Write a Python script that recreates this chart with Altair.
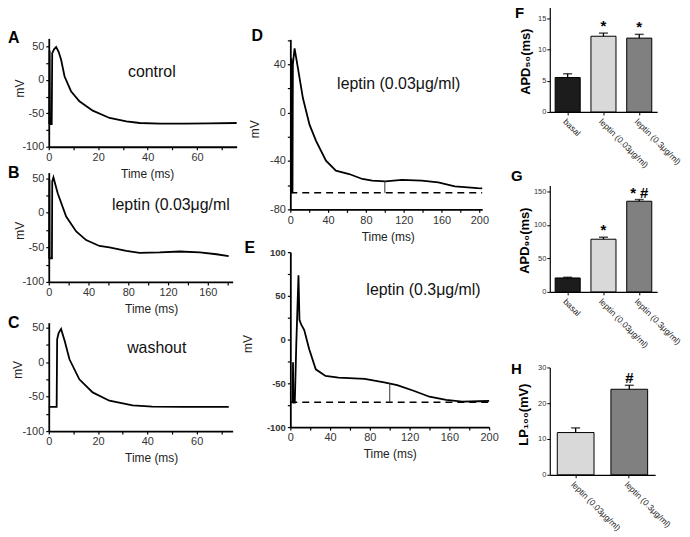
import altair as alt
import pandas as pd

FONT = "Liberation Sans"

# ---------------- trace data (time ms, membrane potential mV) ----------------
tA = [0.2, 0.35, 0.5, 1.2, 1.4, 2.2, 3.0, 4.0, 5.0, 6.4, 9.0, 12.4, 17.8, 24.6, 31.4, 36.8, 45, 55, 65, 76]
vA = [-66, 44, -66, -66, 40, 46, 49, 42, 30, 5, -17, -32, -46, -57, -62, -64.5, -65.5, -65.5, -65, -64.5]

tB = [0.4, 0.7, 0.9, 3.2, 3.5, 4.7, 9, 17.5, 27.6, 37.6, 51, 61, 78, 91.4, 111.6, 131.8, 152, 168.7, 181]
vB = [-66, 48, -66, -66, 45, 51, 28, -5.6, -27, -39.5, -48, -50, -55, -58, -57.4, -56, -57.4, -60, -62.7]

tC = [0, 3.2, 3.4, 4.0, 5.0, 6.5, 8.4, 12.4, 17.8, 24.6, 34, 42, 55, 73]
vC = [-65, -65, 33, 42, 48, 30, 4, -25, -44, -56, -62.7, -64.7, -65, -65]

tD = [0.8, 1.1, 1.4, 2.3, 2.7, 4.5, 8, 13.3, 20.3, 27.2, 37.7, 48.2, 62.2, 76.2, 86.6, 100.6, 118, 139, 156.5,
      174, 198, 203]
vD = [-66, 45, -66, -66, 40, 53, 37, 12, -10, -23.4, -39.8, -48, -50.8, -54.9, -56.2, -56.8, -55.7, -56.2, -57.6,
      -61, -62.5, -62.6]
baseD = -66.3
markD = [100, -56.5]

tE = [2.4, 2.7, 3.0, 4.5, 6, 7, 8.2, 9.2, 11, 14, 19, 25.6, 35.4, 48.5, 74.8, 94.4, 107.5, 124, 140, 156.7, 173,
      189.5, 200]
vE = [-72, -26, -72, -72, -5, 30, 73.6, 22.6, 17, 11, -11, -34, -41.5, -43.4, -45, -49, -52, -58.5, -65.3, -69,
      -71, -70.5, -70]
baseE = -71.7
markE = [100, -49.5]

# ---------------- bar data ----------------
groups3 = ["basal", "leptin (0.03μg/ml)", "leptin (0.3μg/ml)"]
colors3 = ["#1c1c1c", "#d9d9d9", "#808080"]
apd50 = [5.5, 12.1, 11.8]
apd50_err = [0.6, 0.5, 0.6]
apd50_sig = ["", "*", "*"]

apd90 = [20.8, 78.7, 135.5]
apd90_err = [1.0, 3.0, 2.5]
apd90_sig = ["", "*", "* #"]

groups2 = ["leptin (0.03μg/ml)", "leptin (0.3μg/ml)"]
colors2 = ["#d9d9d9", "#808080"]
lp100 = [11.8, 23.9]
lp100_err = [1.3, 1.1]
lp100_sig = ["", "#"]


def letter_layer(txt, lx, ly, size):
    return alt.Chart(pd.DataFrame({"L": [txt]})).mark_text(
        align="left", baseline="alphabetic", fontSize=size, fontWeight="bold", font=FONT, color="black"
    ).encode(x=alt.value(lx), y=alt.value(ly), text="L:N")


def trace_panel(t, v, xdom, xticks, xlabs, ydom, yticks, ylabs, w, h, letter, lx, ly,
                note, note_t, note_v, note_align, mv_x, mv_y, time_x,
                ylab_bold=False, ylab_size=11, base=None, mark=None):
    df = pd.DataFrame({"t": t, "v": v, "i": list(range(len(t)))})
    xs = alt.Scale(domain=xdom, nice=False, zero=False)
    ys = alt.Scale(domain=ydom, nice=False, zero=False)
    xax = alt.Axis(values=xticks, labelExpr=f"indexof({xlabs}, datum.value) >= 0 ? '' + datum.value : ''",
                   title="Time (ms)", titleX=time_x, titleY=27, titleBaseline="middle", titleAlign="center",
                   titleFontSize=12, titleFontWeight="normal", titleColor="#222",
                   tickSize=3, labelPadding=2, labelFontSize=11, labelColor="#333", labelFont=FONT,
                   titleFont=FONT, domainColor="black", domainWidth=1.8, tickColor="black", tickWidth=1.2,
                   grid=False, labelFlush=False, labelOverlap=False)
    yax = alt.Axis(values=yticks, labelExpr=f"indexof({ylabs}, datum.value) >= 0 ? '' + datum.value : ''",
                   title="mV", titleX=mv_x, titleY=mv_y, titleBaseline="middle", titleAlign="center",
                   titleAngle=270, titleFontSize=12, titleFontWeight="normal", titleColor="#222",
                   tickSize=3, labelPadding=2, labelFontSize=ylab_size,
                   labelFontWeight="bold" if ylab_bold else "normal", labelColor="#333", labelFont=FONT,
                   titleFont=FONT, domainColor="black", domainWidth=1.8, tickColor="black", tickWidth=1.2,
                   grid=False, labelFlush=False, labelOverlap=False)
    X = alt.X("t:Q", scale=xs, axis=xax)
    Y = alt.Y("v:Q", scale=ys, axis=yax)
    line = alt.Chart(df).mark_line(color="black", strokeWidth=1.8).encode(x=X, y=Y, order="i:Q")
    layers = [line]
    if base is not None:
        bdf = pd.DataFrame({"t": [xdom[0]], "t2": [xdom[1]], "v": [base]})
        layers.append(alt.Chart(bdf).mark_rule(color="black", strokeWidth=1.4, strokeDash=[7, 5]).encode(
            x=X, x2="t2:Q", y=Y))
        mdf = pd.DataFrame({"t": [mark[0]], "v": [base], "v2": [mark[1]]})
        layers.append(alt.Chart(mdf).mark_rule(color="#333", strokeWidth=1).encode(
            x=X, y=Y, y2="v2:Q"))
    ndf = pd.DataFrame({"t": [note_t], "v": [note_v], "txt": [note]})
    layers.append(alt.Chart(ndf).mark_text(align=note_align, baseline="middle", fontSize=16, font=FONT,
                                           color="#111").encode(x=X, y=Y, text="txt:N"))
    layers.append(letter_layer(letter, lx, ly, 16))
    return alt.layer(*layers).properties(width=w, height=h)


def bar_panel(groups, colors, vals, errs, sigs, ydom, yticks, w, h, ytitle, letter, lx, ly,
              tx, ty, pi, po):
    hi = [a + b for a, b in zip(vals, errs)]
    df = pd.DataFrame({"g": groups, "v": vals, "hi": hi, "sig": sigs, "c": colors})
    xs = alt.Scale(domain=groups, paddingInner=pi, paddingOuter=po)
    ys = alt.Scale(domain=ydom, nice=False, zero=True)
    xax = alt.Axis(title=None, labelAngle=45, labelAlign="left", labelBaseline="top", labelFontSize=8.5,
                   labelFont=FONT, labelColor="#222", tickSize=3, labelPadding=2, domainColor="black",
                   domainWidth=1.2, tickColor="black", labelLimit=300, grid=False)
    yax = alt.Axis(values=yticks, title=ytitle, titleX=tx, titleY=ty, titleAngle=270, titleAlign="center",
                   titleBaseline="middle", titleFontSize=13, titleFontWeight="bold", titleFont=FONT,
                   titleColor="black", labelFontSize=7.5, labelFont=FONT, labelColor="#333", tickSize=3,
                   labelPadding=1, domainColor="black", domainWidth=1.2, tickColor="black", grid=False)
    X = alt.X("g:N", scale=xs, sort=groups, axis=xax)
    bars = alt.Chart(df).mark_bar(stroke="black", strokeWidth=1).encode(
        x=X, y=alt.Y("v:Q", scale=ys, axis=yax), color=alt.Color("c:N", scale=None))
    rule = alt.Chart(df).mark_rule(color="black", strokeWidth=1.3).encode(
        x=X, y=alt.Y("v:Q", scale=ys, axis=yax), y2="hi:Q")
    cap = alt.Chart(df).mark_tick(color="black", size=9, thickness=1.5).encode(
        x=X, y=alt.Y("hi:Q", scale=ys, axis=yax))
    txt = alt.Chart(df).mark_text(fontSize=15, fontWeight="bold", font=FONT, color="black",
                                  baseline="alphabetic", dy=-2).encode(
        x=X, y=alt.Y("hi:Q", scale=ys, axis=yax), text="sig:N")
    return alt.layer(bars, rule, cap, txt, letter_layer(letter, lx, ly, 15)).properties(width=w, height=h)


def spacer(h, left=0, right=1):
    # invisible rule that only reserves layout room
    return alt.Chart(pd.DataFrame({"a": [0]})).mark_rule(strokeOpacity=0, strokeWidth=1).encode(
        x=alt.value(left), x2=alt.value(right), y=alt.value(0)).properties(width=1, height=h)


A = trace_panel(tA, vA, [0, 76], [0, 10, 20, 30, 40, 50, 60, 70], [0, 20, 40, 60],
                [-100, 62], [-100, -75, -50, -25, 0, 25, 50], [-100, -50, 0, 50], 189, 109,
                "A", -41, 5, "control", 41.7, 11, "center", -29, 50, 99)
B = trace_panel(tB, vB, [0, 185], [0, 20, 40, 60, 80, 100, 120, 140, 160, 180], [0, 40, 80, 120, 160],
                [-100, 58], [-100, -75, -50, -25, 0, 25, 50], [-100, -50, 0, 50], 185, 110,
                "B", -41, 5, "leptin (0.03μg/ml", 63.6, 11, "left", -29, 58, 103)
C = trace_panel(tC, vC, [0, 74.6], [0, 10, 20, 30, 40, 50, 60, 70], [0, 20, 40, 60],
                [-100, 57], [-100, -75, -50, -25, 0, 25, 50], [-100, -50, 0, 50], 185, 109,
                "C", -41, 5, "washout", 43.8, 21, "center", -31, 47, 103)
D = trace_panel(tD, vD, [0, 203], [0, 20, 40, 60, 80, 100, 120, 140, 160, 180, 200], [0, 40, 80, 120, 160, 200],
                [-80, 60.5], [-80, -60, -40, -20, 0, 20, 40, 60], [-80, -40, 0, 40], 193, 171,
                "D", -39, 2, "leptin (0.03μg/ml)", 49.5, 23.6, "left", -36, 90, 98, base=baseD, mark=markD)
E = trace_panel(tE, vE, [0, 200], [0, 20, 40, 60, 80, 100, 120, 140, 160, 180, 200], [0, 40, 80, 120, 160, 200],
                [-100, 100], [-100, -75, -50, -25, 0, 25, 50, 75, 100], [-100, -50, 0, 50, 100], 200, 176,
                "E", -46, 1, "leptin (0.3μg/ml)", 76.5, 56.8, "left", -43, 92, 100,
                ylab_bold=True, ylab_size=9.5, base=baseE, mark=markE)

F = bar_panel(groups3, colors3, apd50, apd50_err, apd50_sig, [0, 17], [0, 5, 10, 15], 108, 107,
              "APD₅₀(ms)", "F", -35, 13, -24, 56, 0.3, 0.15)
G = bar_panel(groups3, colors3, apd90, apd90_err, apd90_sig, [0, 159], [0, 50, 100, 150], 108, 107,
              "APD₉₀(ms)", "G", -39, -5, -25, 55, 0.3, 0.15)
H = bar_panel(groups2, colors2, lp100, lp100_err, lp100_sig, [0, 30], [0, 10, 20, 30], 106, 108,
              "LP₁₀₀(mV)", "H", -39, 7, -26, 47, 0.315, 0.14)

left = alt.vconcat(spacer(34, -41, 192), A, spacer(26), B, spacer(41), C, spacing=0, bounds="flush")
mid = alt.vconcat(spacer(35, -50, 220), D, spacer(43), E, spacing=0, bounds="flush")
right = alt.vconcat(spacer(1, -41, 108), F, spacer(74), G, spacer(76), H, spacing=0, bounds="flush")

chart = alt.hconcat(left, mid, right, spacing=0)
chart = chart.properties(padding={"left": 0, "top": -5, "right": 0, "bottom": 0}, background="white")
chart = chart.configure_view(stroke=None).configure_axis(grid=False)

chart.save("out.html", embed_options={"renderer": "svg", "actions": False})
